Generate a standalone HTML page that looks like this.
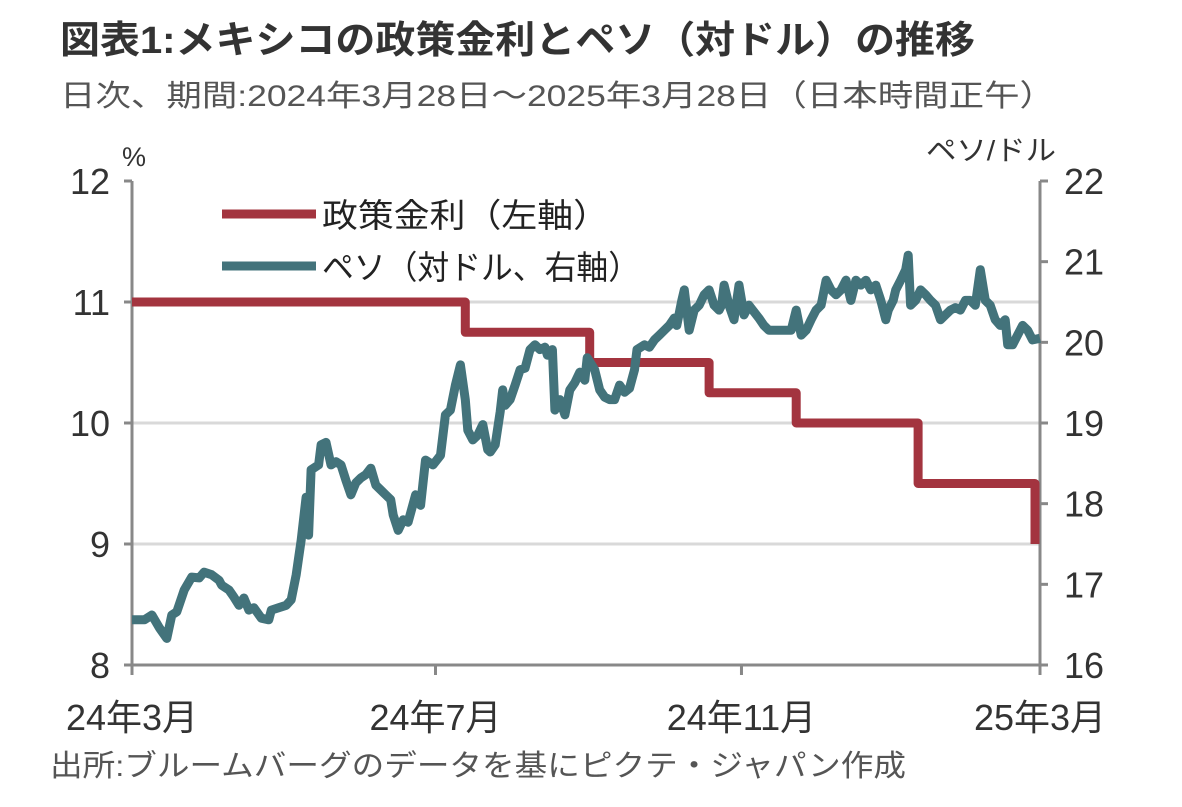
<!DOCTYPE html>
<html><head><meta charset="utf-8"><style>
body{margin:0;background:#fff;width:1182px;height:802px;overflow:hidden;font-family:"Liberation Sans","Noto Sans CJK JP",sans-serif}
</style></head><body>
<svg width="1182" height="802" style="font-family:'Liberation Sans','Noto Sans CJK JP',sans-serif">
<text x="60" y="53" font-size="38" font-weight="bold" fill="#333" textLength="915" lengthAdjust="spacingAndGlyphs">図表1:メキシコの政策金利とペソ（対ドル）の推移</text>
<text x="60" y="106" font-size="30" fill="#555" textLength="995" lengthAdjust="spacingAndGlyphs">日次、期間:2024年3月28日～2025年3月28日（日本時間正午）</text>
<text x="122" y="166" font-size="27" fill="#333">%</text>
<text x="1056" y="160" font-size="28" fill="#333" text-anchor="end" textLength="130" lengthAdjust="spacingAndGlyphs">ペソ/ドル</text>
<g id="grid"></g><g id="axes"></g><g id="series"></g>
<g>
<line x1="222" y1="214" x2="316" y2="214" stroke="#A3343F" stroke-width="9"/>
<text x="322" y="227" font-size="33" fill="#222" textLength="287" lengthAdjust="spacingAndGlyphs">政策金利（左軸）</text>
<line x1="222" y1="266" x2="316" y2="266" stroke="#43737B" stroke-width="9"/>
<text x="322" y="279" font-size="33" fill="#222" textLength="318" lengthAdjust="spacingAndGlyphs">ペソ（対ドル、右軸）</text>
</g>
<text x="50" y="776" font-size="30" fill="#555" textLength="856" lengthAdjust="spacingAndGlyphs">出所:ブルームバーグのデータを基にピクテ・ジャパン作成</text>
</svg>
<script>
const leftTicks=[8,9,10,11,12];
const rightTicks=[16,17,18,19,20,21,22];
const xTickDays=[0,122,245,365];
const xTickLabels=["24年3月","24年7月","24年11月","25年3月"];
const rateDays=[0,134,134,184,184,232,232,267,267,316,316,363,363];
const rateVals=[11,11,10.75,10.75,10.5,10.5,10.25,10.25,10,10,9.5,9.5,9];
const pesoDays=[0,5,8,11,14,16,18,21,24,27,29,32,35,36,39,41,43,45,47,49,52,55,56,59,62,64,66,68,70,71,72,75,76,78,80,82,84,86,88,90,92,94,96,98,100,102,104,105,107,109,111,114,116,118,119,121,124,126,128,130,132,134,135,137,139,141,143,144,146,148,149,150,152,154,156,158,160,162,164,166,167,169,170,172,174,176,178,180,182,183,186,188,190,192,194,196,198,200,202,203,206,208,210,212,214,216,218,219,221,222,224,226,228,230,232,234,236,237,238,240,242,244,246,248,252,254,256,258,260,265,267,269,271,273,275,277,279,281,283,285,287,289,291,293,295,297,299,301,303,304,306,307,309,311,312,313,315,317,319,321,323,325,327,329,331,333,335,337,339,341,343,345,347,349,351,352,354,356,358,360,362,365];
const pesoVals=[16.56,16.56,16.62,16.46,16.33,16.62,16.66,16.93,17.09,17.08,17.15,17.12,17.05,16.99,16.93,16.84,16.74,16.83,16.68,16.71,16.58,16.56,16.68,16.71,16.74,16.81,17.12,17.55,18.08,17.61,18.42,18.48,18.73,18.76,18.48,18.52,18.48,18.29,18.11,18.26,18.32,18.36,18.44,18.23,18.17,18.11,18.05,17.86,17.67,17.80,17.77,18.11,17.98,18.54,18.52,18.48,18.60,19.10,19.16,19.47,19.72,19.29,18.91,18.79,18.85,18.98,18.67,18.64,18.73,19.14,19.41,19.22,19.29,19.47,19.66,19.68,19.91,19.97,19.91,19.94,19.84,19.91,19.16,19.29,19.10,19.41,19.50,19.63,19.53,19.81,19.66,19.41,19.32,19.29,19.29,19.47,19.38,19.43,19.66,19.91,19.97,19.94,20.03,20.09,20.15,20.21,20.30,20.21,20.52,20.65,20.15,20.40,20.46,20.59,20.65,20.46,20.40,20.46,20.71,20.46,20.28,20.71,20.34,20.46,20.30,20.21,20.15,20.15,20.15,20.15,20.40,20.09,20.15,20.28,20.40,20.46,20.77,20.65,20.59,20.65,20.77,20.52,20.77,20.71,20.77,20.65,20.71,20.52,20.28,20.40,20.52,20.65,20.77,20.90,21.08,20.46,20.52,20.65,20.59,20.52,20.46,20.28,20.34,20.40,20.43,20.40,20.52,20.52,20.46,20.90,20.52,20.46,20.28,20.21,20.28,19.97,19.97,20.09,20.21,20.15,20.03,20.05];
const X0=132,X1=1040,YT=181,YB=665;
const xs=d=>X0+d/365*(X1-X0);
const yL=v=>YB-(v-8)/4*(YB-YT);
const yR=v=>YB-(v-16)/6*(YB-YT);
const NS="http://www.w3.org/2000/svg";
function mk(p,tag,at){const e=document.createElementNS(NS,tag);for(const k in at)e.setAttribute(k,at[k]);p.appendChild(e);return e;}
const grid=document.getElementById('grid'),axes=document.getElementById('axes'),ser=document.getElementById('series');
leftTicks.forEach(t=>{
 if(t>8&&t<12){const g=mk(grid,'line',{x1:X0,x2:X1,y1:yL(t),y2:yL(t),stroke:'#d9d9d9','stroke-width':3});
 
 }
 const tk=mk(axes,'line',{x1:X0-8,x2:X0,y1:yL(t),y2:yL(t),stroke:'#888','stroke-width':3});
 
 
 const tx=mk(axes,'text',{x:X0-22,y:yL(t)+13,'font-size':36,'text-anchor':'end',fill:'#333'});tx.textContent=t;
 
 
});
rightTicks.forEach(t=>{
 const tk=mk(axes,'line',{x1:X1,x2:X1+8,y1:yR(t),y2:yR(t),stroke:'#888','stroke-width':3});
 
 
 const tx=mk(axes,'text',{x:X1+24,y:yR(t)+13,'font-size':36,fill:'#333'});tx.textContent=t;
 
 
});
const la=mk(axes,'line',{x1:X0,x2:X0,y1:YT,y2:YB,stroke:'#888','stroke-width':3});


const ra=mk(axes,'line',{x1:X1,x2:X1,y1:YT,y2:YB,stroke:'#888','stroke-width':3});


const xa=mk(axes,'line',{x1:X0,x2:X1,y1:YB,y2:YB,stroke:'#888','stroke-width':3});


xTickDays.forEach((d,i)=>{
 const tk=mk(axes,'line',{x1:xs(d),x2:xs(d),y1:YB,y2:YB+10,stroke:'#888','stroke-width':3});
 
 
 const tx=mk(axes,'text',{x:xs(d),y:730,'font-size':36,'text-anchor':'middle',fill:'#333'});tx.textContent=xTickLabels[i];
 
 
});
const rp=mk(ser,'path',{d:rateDays.map((d,i)=>(i?'L':'M')+xs(d).toFixed(1)+' '+yL(rateVals[i]).toFixed(1)).join(''),fill:'none',stroke:'#A3343F','stroke-width':9,'stroke-linejoin':'round'});


const pp=mk(ser,'path',{d:pesoDays.map((d,i)=>(i?'L':'M')+xs(d).toFixed(1)+' '+yR(pesoVals[i]).toFixed(1)).join(''),fill:'none',stroke:'#43737B','stroke-width':9,'stroke-linejoin':'round'});


</script>
</body></html>
